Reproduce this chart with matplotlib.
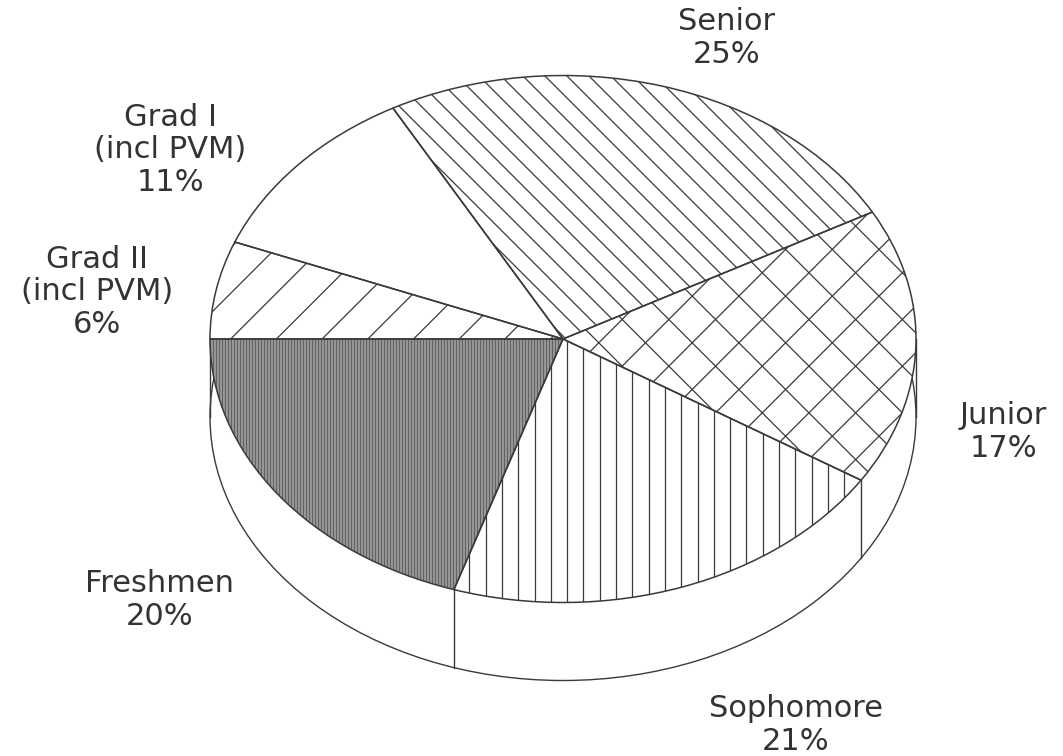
import numpy as np
import matplotlib
matplotlib.use("Agg")
import matplotlib.pyplot as plt
from matplotlib.patches import PathPatch

names = ["Freshmen", "Sophomore", "Junior", "Senior", "Grad I\n(incl PVM)", "Grad II\n(incl PVM)"]
valores = [20, 21, 17, 25, 11, 6]

# centro de cada etiqueta en pixeles
label_x = [160, 796, 1003, 727, 170, 97]
label_y = [600, 725, 432, 38, 150, 292]

# posicion de la torta en pixeles
cx, cy, rx, ry = 563, 339, 353, 263.5
prof = 78 / ry
W, H = 1063, 756
tinta = "#3a3a3a"


def px(x):
    return (x - cx) / rx


def py(y):
    return (cy - y) / ry


def rayado(ax, wedge, modo, paso, fase, color=tinta, lw=0.9):
    # lineas recortadas a la porcion, definidas en pixeles
    if modo == "v":
        for x in np.arange(fase % paso, W, paso):
            l, = ax.plot([px(x), px(x)], [py(0), py(H)], color=color, lw=lw, zorder=3)
            l.set_clip_path(wedge)
    elif modo == "/":
        for k in np.arange(fase % paso, W + H, paso):
            l, = ax.plot([px(k), px(k - H)], [py(0), py(H)], color=color, lw=lw, zorder=3)
            l.set_clip_path(wedge)
    elif modo == "\\":
        for k in np.arange(-H + fase % paso, W, paso):
            l, = ax.plot([px(k), px(k + H)], [py(0), py(H)], color=color, lw=lw, zorder=3)
            l.set_clip_path(wedge)


fig = plt.figure(figsize=(W / 100, H / 100), dpi=100, facecolor="white")
ax = fig.add_axes([0, 0, 1, 1])

# base de la torta
ax.pie([100], center=(0, -prof), colors=["white"], startangle=180, frame=True,
       wedgeprops={"edgecolor": tinta, "linewidth": 1.0, "zorder": 1})

colores = ["#969696", "white", "white", "white", "white", "white"]
wedges, _ = ax.pie(valores, startangle=180, colors=colores, frame=True,
                   wedgeprops={"edgecolor": "none", "zorder": 2})

rayado(ax, wedges[0], "v", 3, 0, color="#606060", lw=0.7)
rayado(ax, wedges[1], "v", 16.3, 469.3)
rayado(ax, wedges[2], "\\", 46.7, 591.7)
rayado(ax, wedges[2], "/", 46.7, 1081.7)
rayado(ax, wedges[3], "\\", 22, 477)
rayado(ax, wedges[5], "/", 45.7, 569.7)

# bordes encima del rayado
for w in wedges:
    ax.add_patch(PathPatch(w.get_path(), transform=w.get_transform(), fill=False,
                           edgecolor=tinta, lw=1.1, zorder=4))

# costuras verticales del costado
angulos = np.deg2rad(180 + np.cumsum(valores) * 3.6)
for a in [np.pi, angulos[0], angulos[1], 0]:
    ax.plot([np.cos(a), np.cos(a)], [np.sin(a), np.sin(a) - prof], color=tinta, lw=1.0, zorder=1.5)

for n, v, x, y in zip(names, valores, label_x, label_y):
    ax.text(px(x), py(y), f"{n}\n{v}%", ha="center", va="center", fontsize=22,
            family="DejaVu Sans", color="#333333", linespacing=1.14)

ax.set_aspect("auto")
ax.set_xlim(px(0), px(W))
ax.set_ylim(py(H), py(0))
ax.axis("off")

fig.savefig("out.png", dpi=100, facecolor="white")
